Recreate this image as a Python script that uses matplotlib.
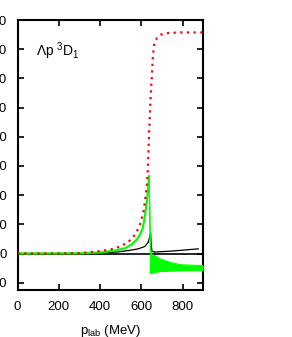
import matplotlib

matplotlib.use("Agg")
import matplotlib.pyplot as plt

plt.rcParams["font.family"] = ["Liberation Sans", "DejaVu Sans"]
plt.rcParams["mathtext.default"] = "regular"

# phase shift vs lab momentum
red_p = [0, 200, 300, 384, 416, 448, 476, 505, 529, 550, 566, 580, 593, 601, 609, 614,
         617, 621, 624, 627, 630, 633, 636, 640, 643, 646, 650, 653, 656, 662, 668, 675,
         685, 695, 720, 780, 900]
red_delta = [0, 0, 0.3, 1.4, 2, 2.7, 3.6, 5.5, 7, 9.6, 12.3, 15.7, 19.6, 23.7, 27.8, 31.6,
             35.7, 39.6, 43.7, 47.6, 53, 63, 76, 90, 100, 110, 119, 127, 135, 143, 145.5, 147.5,
             149, 150, 151, 151.5, 151.5]

# green: single curve up to the peak, then a band after the cusp
green_p = [0, 300, 400, 472, 521, 553, 577, 593, 606, 614, 621, 626, 631, 634, 638]
green_delta = [0, 0.1, 0.7, 2, 3.6, 6.2, 9.4, 12.8, 16.9, 22.7, 29.5, 35, 41, 46, 53]

band_p = [638, 641, 645, 650, 658, 666, 690, 739, 787, 850, 900]
band_hi = [53, 30, 2, -1, -1.2, -1.4, -3.6, -6, -7.6, -8.1, -8.2]
band_lo = [51, 20, -13.7, -13.7, -13.3, -12.8, -12.4, -12, -11.8, -11.7, -11.7]

black_p = [0, 300, 400, 480, 537, 585, 617, 633, 640, 645, 648, 652, 665, 740, 810, 876]
black_delta = [0, 0, 0.3, 1, 2, 3.2, 4.8, 7.7, 11, 14, 5, 1.5, 1, 1.6, 2.4, 3.2]

x_ticks = [0, 200, 400, 600, 800]
y_ticks = [-20, 0, 20, 40, 60, 80, 100, 120, 140, 160]

fig = plt.figure(figsize=(2.92, 3.37), dpi=100)
ax = fig.add_axes([0.060, 0.1395, 0.636, 0.801])

ax.axhline(0, color="black", lw=1.2, zorder=1)
ax.plot(black_p, black_delta, color="black", lw=0.9, zorder=2)
ax.plot(green_p, green_delta, color="#00ff00", lw=1.6, zorder=3)
ax.fill_between(band_p, band_lo, band_hi, color="#00ff00", lw=0, zorder=3)
ax.plot(band_p, band_hi, color="#00ff00", lw=0.8, zorder=3)
ax.plot(band_p, band_lo, color="#00ff00", lw=0.8, zorder=3)
ax.plot(red_p, red_delta, color="red", lw=1.6, ls=(0, (1, 2)), zorder=4)

ax.set_xlim(0, 900)
ax.set_ylim(-25, 160)
ax.set_xticks(x_ticks)
ax.set_yticks(y_ticks)
ax.tick_params(direction="in", length=4, width=1.2, top=True, right=True,
               labelsize=9.5, pad=8)
ax.tick_params(axis="y", pad=7.5)
for spine in ax.spines.values():
    spine.set_linewidth(1.5)

ax.set_xlabel("p$_{lab}$ (MeV)", fontsize=9.5, labelpad=7)
ax.text(0.10, 0.865, "Λp $^{3}$D$_{1}$", transform=ax.transAxes, fontsize=10)

fig.savefig("out.png", dpi=100)
